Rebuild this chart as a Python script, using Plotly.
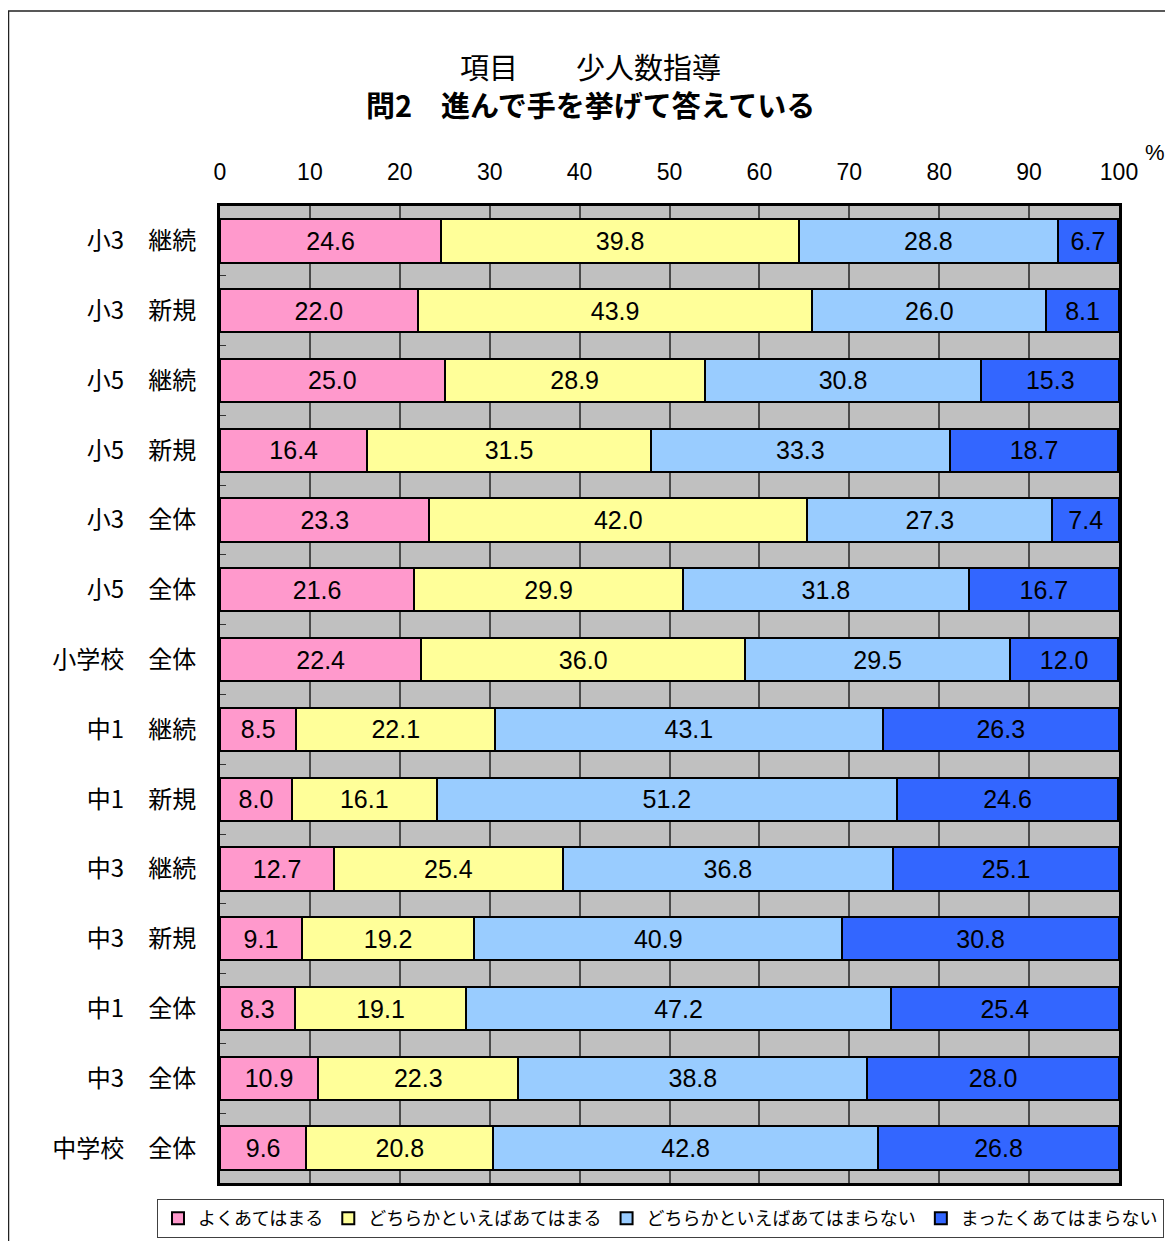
import plotly.graph_objects as go

categories = ["小3　継続", "小3　新規", "小5　継続", "小5　新規", "小3　全体", "小5　全体",
              "小学校　全体", "中1　継続", "中1　新規", "中3　継続", "中3　新規",
              "中1　全体", "中3　全体", "中学校　全体"]
series_names = ["よくあてはまる", "どちらかといえばあてはまる",
                "どちらかといえばあてはまらない", "まったくあてはまらない"]
yoku = [24.6, 22.0, 25.0, 16.4, 23.3, 21.6, 22.4, 8.5, 8.0, 12.7, 9.1, 8.3, 10.9, 9.6]
dochira_ateha = [39.8, 43.9, 28.9, 31.5, 42.0, 29.9, 36.0, 22.1, 16.1, 25.4, 19.2, 19.1, 22.3, 20.8]
dochira_atehamaranai = [28.8, 26.0, 30.8, 33.3, 27.3, 31.8, 29.5, 43.1, 51.2, 36.8, 40.9, 47.2, 38.8, 42.8]
mattaku = [6.7, 8.1, 15.3, 18.7, 7.4, 16.7, 12.0, 26.3, 24.6, 25.1, 30.8, 25.4, 28.0, 26.8]
tick_vals = [0, 10, 20, 30, 40, 50, 60, 70, 80, 90, 100]
colors = ["#FF99CC", "#FFFF99", "#99CCFF", "#3366FF"]

FONT = "Liberation Sans, Arial, Noto Sans CJK JP, sans-serif"
JP = "Noto Sans CJK JP, sans-serif"

OFF = 8  # page body margin
W, H = 1173 - OFF, 1249 - 2 * OFF
# plot area in page pixels
PL, PR, PT, PB = 220, 1119, 206, 1183
L, R, T, B = PL - OFF, PR - OFF, PT - OFF, PB - OFF

fig = go.Figure()
for name, vals, col in zip(series_names, [yoku, dochira_ateha, dochira_atehamaranai, mattaku], colors):
    fig.add_trace(go.Bar(
        y=categories, x=vals, name=name, orientation="h",
        marker=dict(color=col, line=dict(color="black", width=2)),
        text=[f"{v:.1f}" for v in vals], textposition="inside",
        insidetextanchor="middle", constraintext="none",
        textfont=dict(family=FONT, size=25, color="black"),
        cliponaxis=False,
    ))

def px_x(p):
    return (p - OFF - L) / (R - L)

def px_y(p):
    return (B - (p - OFF)) / (B - T)

fig.update_layout(
    width=W, height=H,
    margin=dict(l=L, r=W - R, t=T, b=H - B, autoexpand=False),
    barmode="stack", bargap=0.38,
    plot_bgcolor="#C0C0C0", paper_bgcolor="white",
    font=dict(family=FONT, size=22, color="black"),
    showlegend=True,
    legend=dict(orientation="h", x=px_x(157), y=px_y(1238), xanchor="left", yanchor="bottom",
                bordercolor="#404040", borderwidth=1, bgcolor="white",
                font=dict(family=JP, size=18), traceorder="normal",
                itemwidth=30, tracegroupgap=0),
    xaxis=dict(side="top", range=[0, 100], tickvals=tick_vals, ticktext=[str(v) for v in tick_vals],
               showgrid=True, gridcolor="#4a4a4a", gridwidth=1.5,
               showline=True, linecolor="black", linewidth=3, mirror=True,
               ticks="", ticklabelstandoff=14, zeroline=False,
               tickfont=dict(family=FONT, size=23)),
    yaxis=dict(autorange="reversed", showline=True, linecolor="black", linewidth=3, mirror=True,
               ticks="inside", tickson="boundaries", ticklen=6, tickcolor="#333", tickwidth=1,
               showgrid=False, ticklabelstandoff=16,
               tickfont=dict(family=JP, size=24)),
    shapes=[dict(type="rect", xref="paper", yref="paper",
                 x0=px_x(8.5), x1=px_x(1200), y0=px_y(1280), y1=px_y(11),
                 line=dict(color="#222", width=1.5), fillcolor="rgba(0,0,0,0)", layer="below")],
    annotations=[
        dict(text="項目　　少人数指導<br><b>問2　進んで手を挙げて答えている</b>",
             x=px_x(590), y=px_y(85), xref="paper", yref="paper",
             showarrow=False, font=dict(family=JP, size=29), xanchor="center", yanchor="middle",
             align="center"),
        dict(text="%", x=px_x(1155), y=px_y(152), xref="paper", yref="paper",
             showarrow=False, font=dict(family=FONT, size=22), xanchor="center", yanchor="middle"),
    ],
)

fig.write_html("out.html")
